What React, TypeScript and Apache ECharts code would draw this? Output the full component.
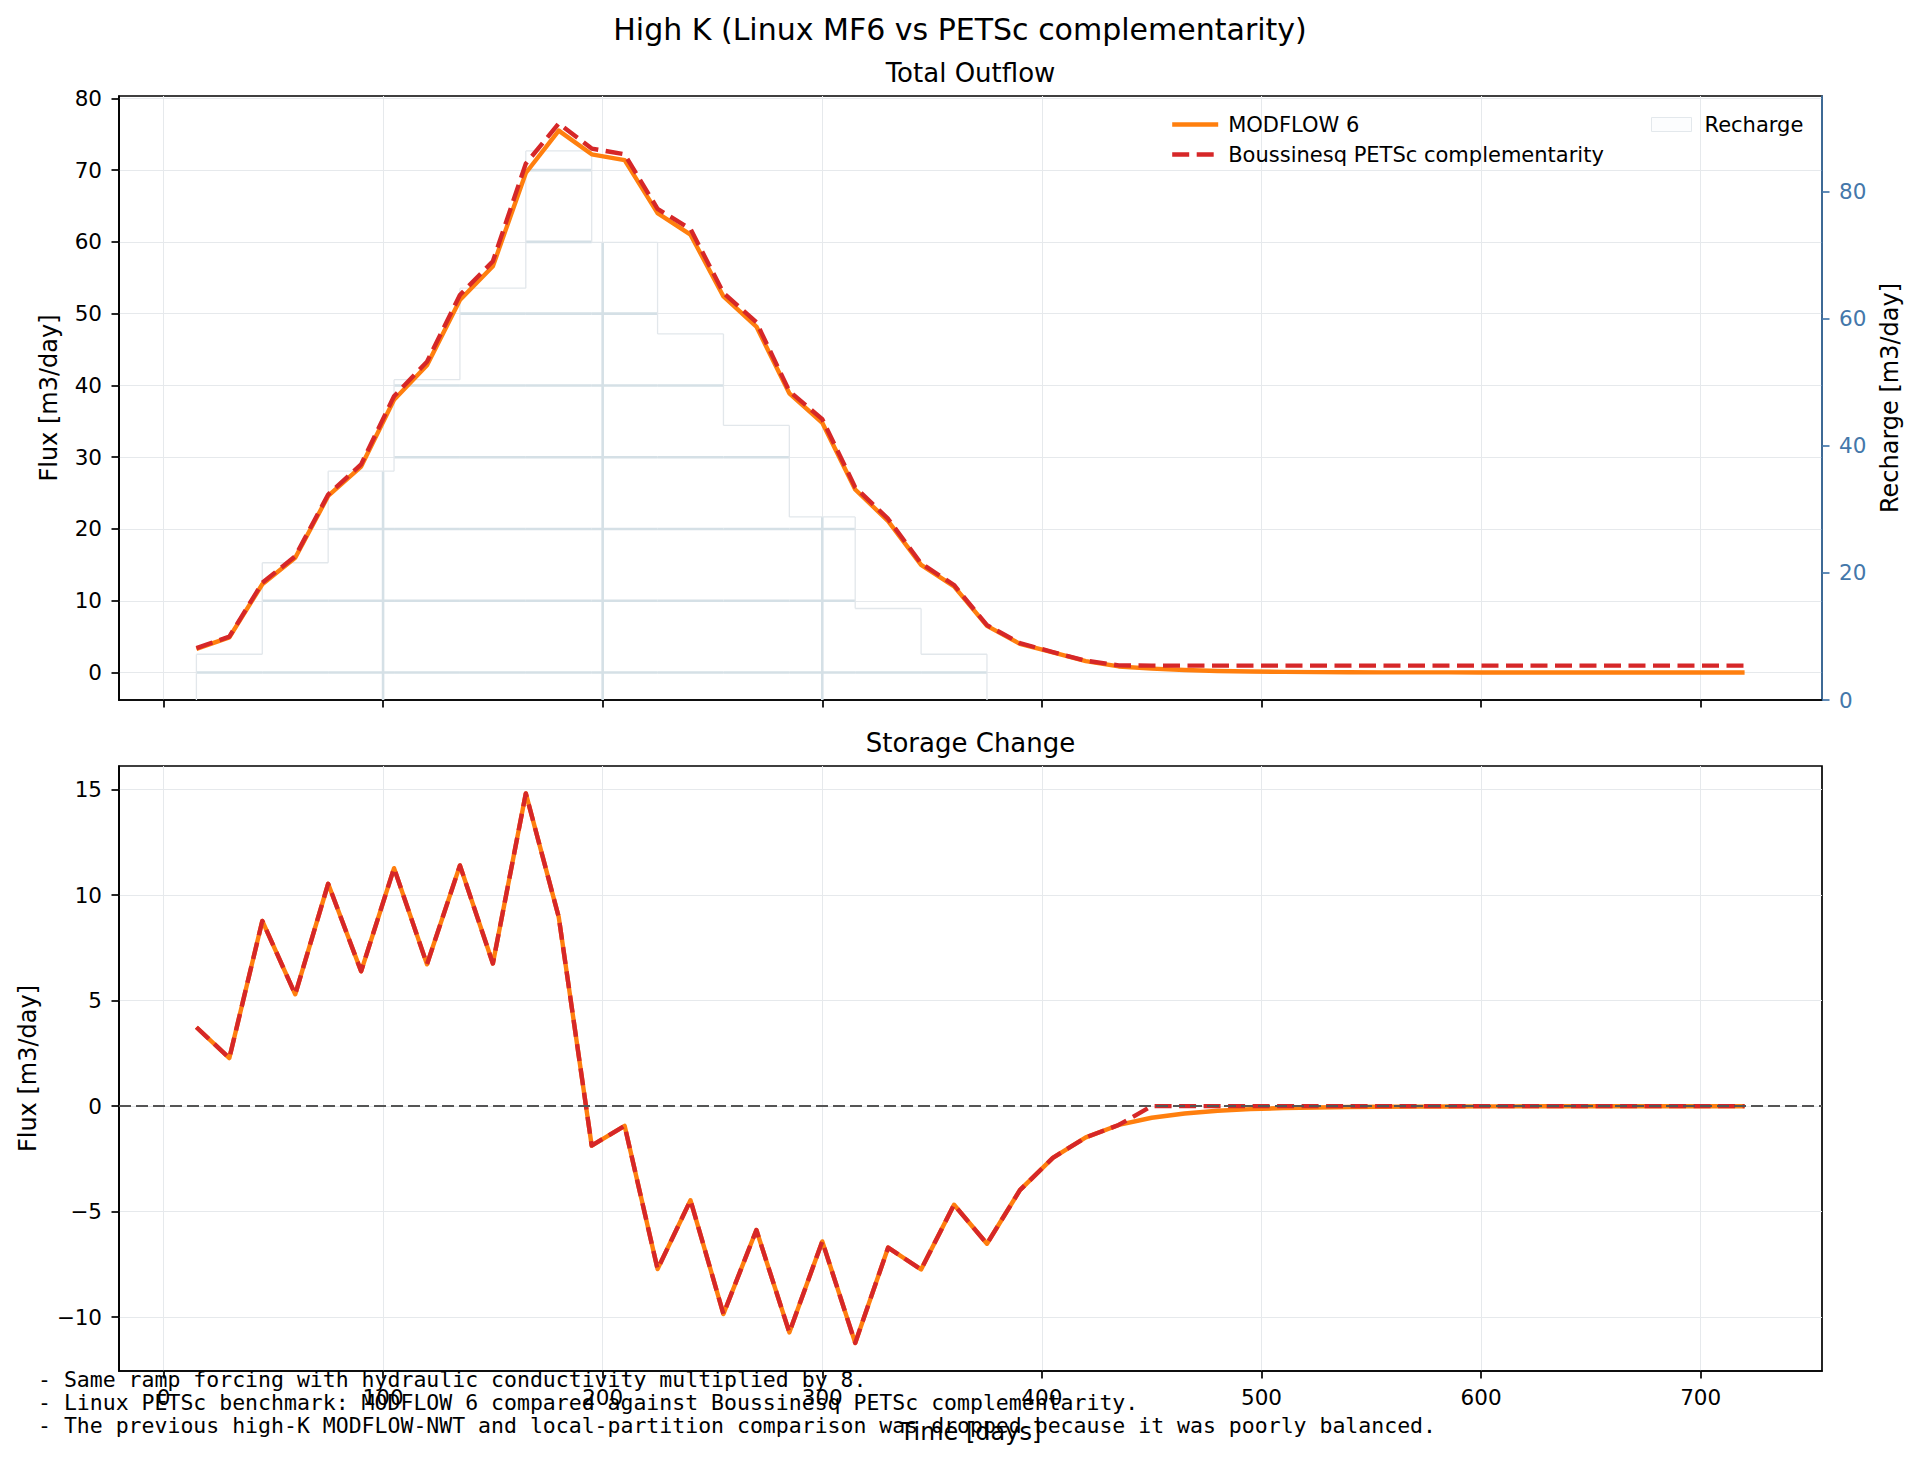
import React, { useEffect, useRef } from "react";
import * as echarts from "echarts";

const time = [15, 30, 45, 60, 75, 90, 105, 120, 135, 150, 165, 180, 195, 210, 225, 240, 255, 270, 285, 300, 315, 330, 345, 360, 375, 390, 405, 420, 435, 450, 465, 480, 495, 510, 525, 540, 555, 570, 585, 600, 615, 630, 645, 660, 675, 690, 705, 720];

const mf6Outflow = [3.3, 4.9, 12.3, 16.0, 24.6, 28.7, 38.0, 42.8, 51.9, 56.6, 69.6, 75.5, 72.2, 71.4, 64.0, 61.0, 52.4, 48.2, 38.9, 34.8, 25.5, 21.1, 15.0, 12.0, 6.5, 4.0, 2.8, 1.6, 0.85, 0.55, 0.35, 0.22, 0.14, 0.09, 0.06, 0.04, 0.03, 0.02, 0.02, 0.01, 0.01, 0.01, 0.01, 0.01, 0.01, 0.01, 0.01, 0.01];

const petscOutflow = [3.4, 5.0, 12.5, 16.2, 24.8, 29.0, 38.5, 43.3, 52.6, 57.3, 70.9, 76.5, 73.0, 72.2, 64.6, 61.8, 52.9, 48.8, 39.2, 35.3, 25.8, 21.4, 15.2, 12.2, 6.6, 4.1, 2.85, 1.65, 1.0, 0.97, 0.97, 0.97, 0.97, 0.97, 0.97, 0.97, 0.97, 0.97, 0.97, 0.97, 0.97, 0.97, 0.97, 0.97, 0.97, 0.97, 0.97, 0.97];

const mf6Storage = [3.74, 2.28, 8.78, 5.3, 10.54, 6.39, 11.28, 6.72, 11.41, 6.76, 14.82, 8.96, -1.87, -0.93, -7.72, -4.46, -9.85, -5.87, -10.72, -6.41, -11.22, -6.7, -7.74, -4.67, -6.52, -3.98, -2.45, -1.48, -0.89, -0.55, -0.35, -0.22, -0.14, -0.09, -0.06, -0.04, -0.03, -0.02, -0.015, -0.01, -0.008, -0.006, -0.004, -0.003, -0.002, -0.002, -0.001, -0.001];

const petscStorage = [3.74, 2.28, 8.78, 5.3, 10.54, 6.39, 11.28, 6.72, 11.41, 6.76, 14.82, 8.96, -1.87, -0.93, -7.72, -4.46, -9.85, -5.87, -10.72, -6.41, -11.22, -6.7, -7.74, -4.67, -6.52, -3.98, -2.45, -1.48, -0.89, 0, 0, 0, 0, 0, 0, 0, 0, 0, 0, 0, 0, 0, 0, 0, 0, 0, 0, 0];

const rechargeStart = [15, 45, 75, 105, 135, 165, 195, 225, 255, 285, 315, 345];
const rechargeEnd = [45, 75, 105, 135, 165, 195, 225, 255, 285, 315, 345, 375];
const rechargeRate = [7.2, 21.6, 36.0, 50.4, 64.8, 86.4, 72.0, 57.6, 43.2, 28.8, 14.4, 7.2];

const timeTicks = [0, 100, 200, 300, 400, 500, 600, 700];
const outflowTicks = [0, 10, 20, 30, 40, 50, 60, 70, 80];
const storageTicks = [-10, -5, 0, 5, 10, 15];
const rechargeTicks = [0, 20, 40, 60, 80];

const footnotes = [
  "- Same ramp forcing with hydraulic conductivity multiplied by 8.",
  "- Linux PETSc benchmark: MODFLOW 6 compared against Boussinesq PETSc complementarity.",
  "- The previous high-K MODFLOW-NWT and local-partition comparison was dropped because it was poorly balanced.",
];

const X_MIN = -20.25;
const X_MAX = 755.25;
const OUT_MIN = -3.825;
const OUT_MAX = 80.325;
const ST_MIN = -12.55;
const ST_MAX = 16.12;
const RECH_MAX = 95.04;

const FONT = "DejaVu Sans";
const ORANGE = "#ff7f0e";
const RED = "#d62728";
const BLUE = "#4477aa";
const GRID = "#e6e9ec";

const fmt = (v: number) => (v < 0 ? "\u2212" + Math.abs(v) : String(v));

export default function App() {
  const ref = useRef<HTMLDivElement>(null);

  useEffect(() => {
    if (!ref.current) return;
    const chart = echarts.init(ref.current, null, { renderer: "svg" });

    const pairs = (vals: number[]) => time.map((t, i) => [t, vals[i]]);
    const rechargeData = rechargeStart.map((s, i) => [
      s,
      rechargeEnd[i],
      rechargeRate[i],
      i > 0 ? rechargeRate[i - 1] : 0,
    ]);
    const lastIdx = rechargeStart.length - 1;

    const tickLabel = { fontSize: 21.5, color: "#000", fontFamily: FONT };
    const axisLine = { show: true, onZero: false, lineStyle: { color: "#000", width: 1.7 } };
    const axisTick = { show: true, length: 7.5, lineStyle: { color: "#000", width: 1.7 } };
    const splitLine = { show: true, lineStyle: { color: GRID, width: 1 } };

    const option: any = {
      animation: false,
      backgroundColor: "#ffffff",
      textStyle: { fontFamily: FONT },
      title: [
        {
          text: "High K (Linux MF6 vs PETSc complementarity)",
          left: "center",
          top: 9,
          textStyle: { fontSize: 30, fontWeight: "normal", color: "#000", fontFamily: FONT },
        },
      ],
      grid: [
        { left: 119, top: 96, width: 1703, height: 604, show: true, borderColor: "#000", borderWidth: 1.7, backgroundColor: "transparent" },
        { left: 119, top: 766, width: 1703, height: 605, show: true, borderColor: "#000", borderWidth: 1.7, backgroundColor: "transparent" },
      ],
      legend: [
        {
          orient: "vertical",
          left: 1165,
          top: 109,
          itemWidth: 46,
          itemHeight: 21,
          itemGap: 9,
          selectedMode: false,
          itemStyle: { opacity: 0, borderWidth: 0 },
          lineStyle: { width: 4.4, type: "inherit" },
          data: ["MODFLOW 6", "Boussinesq PETSc complementarity"],
          textStyle: { fontSize: 21, color: "#000", fontFamily: FONT, padding: [0, 0, 0, 5] },
        },
        {
          left: 1646,
          top: 109,
          itemWidth: 40,
          itemHeight: 14,
          selectedMode: false,
          data: [
            {
              name: "Recharge",
              icon: "rect",
              itemStyle: { color: "#fcfdfe", borderColor: "#e3e8ec", borderWidth: 1 },
            },
          ],
          textStyle: { fontSize: 21, color: "#000", fontFamily: FONT, padding: [0, 0, 0, 8] },
        },
      ],
      xAxis: [
        {
          type: "value",
          gridIndex: 0,
          min: X_MIN,
          max: X_MAX,
          axisLine,
          axisTick: { ...axisTick, customValues: timeTicks },
          axisLabel: { show: false, customValues: timeTicks },
          splitLine,
        },
        {
          type: "value",
          gridIndex: 1,
          min: X_MIN,
          max: X_MAX,
          name: "Time [days]",
          nameLocation: "middle",
          nameGap: 49,
          nameTextStyle: { fontSize: 24, color: "#000", fontFamily: FONT },
          axisLine,
          axisTick: { ...axisTick, customValues: timeTicks },
          axisLabel: { ...tickLabel, margin: 15, customValues: timeTicks, formatter: fmt },
          splitLine,
        },
      ],
      yAxis: [
        {
          type: "value",
          gridIndex: 0,
          min: OUT_MIN,
          max: OUT_MAX,
          name: "Flux [m3/day]",
          nameLocation: "middle",
          nameRotate: 90,
          nameGap: 58,
          nameTextStyle: { fontSize: 24, color: "#000", fontFamily: FONT },
          axisLine,
          axisTick: { ...axisTick, customValues: outflowTicks },
          axisLabel: { ...tickLabel, margin: 17, customValues: outflowTicks, formatter: fmt },
          splitLine,
        },
        {
          type: "value",
          gridIndex: 0,
          position: "right",
          min: 0,
          max: RECH_MAX,
          name: "Recharge [m3/day]",
          nameLocation: "middle",
          nameRotate: 90,
          nameGap: 56,
          nameTextStyle: { fontSize: 24, color: "#000", fontFamily: FONT },
          axisLine: { show: true, onZero: false, lineStyle: { color: BLUE, width: 1.7 } },
          axisTick: { show: true, length: 7.5, lineStyle: { color: BLUE, width: 1.7 }, customValues: rechargeTicks },
          axisLabel: { fontSize: 21.5, color: BLUE, fontFamily: FONT, margin: 17, customValues: rechargeTicks },
          splitLine: { show: false },
        },
        {
          type: "value",
          gridIndex: 1,
          min: ST_MIN,
          max: ST_MAX,
          name: "Flux [m3/day]",
          nameLocation: "middle",
          nameRotate: 90,
          nameGap: 79,
          nameTextStyle: { fontSize: 24, color: "#000", fontFamily: FONT },
          axisLine,
          axisTick: { ...axisTick, customValues: storageTicks },
          axisLabel: { ...tickLabel, margin: 17, customValues: storageTicks, formatter: fmt },
          splitLine,
        },
      ],
      series: [
        {
          name: "Recharge",
          type: "custom",
          xAxisIndex: 0,
          yAxisIndex: 1,
          z: 1,
          clip: true,
          silent: true,
          itemStyle: { color: "#fcfdfe", borderColor: "#e3e8ec", borderWidth: 1 },
          encode: { x: [0, 1], y: 2 },
          data: rechargeData,
          renderItem: (params: any, api: any) => {
            const x0 = api.value(0);
            const x1 = api.value(1);
            const r = api.value(2);
            const rPrev = api.value(3);
            const children: any[] = [];
            const dark = { stroke: "#d5e0e6", lineWidth: 2.6 };
            const edge = { stroke: "#e2e7eb", lineWidth: 1.3 };
            const seg = (a: number[], b: number[], style: any) =>
              children.push({ type: "line", shape: { x1: a[0], y1: a[1], x2: b[0], y2: b[1] }, style });
            outflowTicks.forEach((f) => {
              const rf = ((f - OUT_MIN) / (OUT_MAX - OUT_MIN)) * RECH_MAX;
              if (rf <= r) seg(api.coord([x0, rf]), api.coord([x1, rf]), dark);
            });
            timeTicks.forEach((g) => {
              if (g > x0 && g < x1) seg(api.coord([g, 0]), api.coord([g, r]), dark);
            });
            seg(api.coord([x0, r]), api.coord([x1, r]), edge);
            seg(api.coord([x0, rPrev]), api.coord([x0, r]), edge);
            if (params.dataIndex === lastIdx) seg(api.coord([x1, r]), api.coord([x1, 0]), edge);
            return { type: "group", children };
          },
        },
        {
          name: "MODFLOW 6",
          type: "line",
          xAxisIndex: 0,
          yAxisIndex: 0,
          z: 3,
          symbol: "none",
          showSymbol: false,
          color: ORANGE,
          lineStyle: { color: ORANGE, width: 4.4, join: "round" },
          data: pairs(mf6Outflow),
        },
        {
          name: "Boussinesq PETSc complementarity",
          type: "line",
          xAxisIndex: 0,
          yAxisIndex: 0,
          z: 4,
          symbol: "none",
          showSymbol: false,
          color: RED,
          lineStyle: { color: RED, width: 4.4, type: [17, 7.5], cap: "butt", join: "round" },
          data: pairs(petscOutflow),
        },
        {
          name: "zero",
          type: "line",
          xAxisIndex: 1,
          yAxisIndex: 2,
          z: 2,
          symbol: "none",
          data: [],
          markLine: {
            silent: true,
            symbol: ["none", "none"],
            label: { show: false },
            lineStyle: { color: "#555555", width: 2.2, type: [12, 5] },
            data: [{ yAxis: 0 }],
          },
        },
        {
          name: "MODFLOW 6 storage",
          type: "line",
          xAxisIndex: 1,
          yAxisIndex: 2,
          z: 3,
          symbol: "none",
          showSymbol: false,
          color: ORANGE,
          lineStyle: { color: ORANGE, width: 4.4, join: "round" },
          data: pairs(mf6Storage),
        },
        {
          name: "PETSc storage",
          type: "line",
          xAxisIndex: 1,
          yAxisIndex: 2,
          z: 4,
          symbol: "none",
          showSymbol: false,
          color: RED,
          lineStyle: { color: RED, width: 4.4, type: [17, 7.5], cap: "butt", join: "round" },
          data: pairs(petscStorage),
        },
      ],
      graphic: [
        {
          type: "text",
          x: 970.5,
          y: 73,
          style: { text: "Total Outflow", font: `26px "${FONT}"`, fill: "#000", textAlign: "center", textVerticalAlign: "middle" },
        },
        {
          type: "text",
          x: 970.5,
          y: 743,
          style: { text: "Storage Change", font: `26px "${FONT}"`, fill: "#000", textAlign: "center", textVerticalAlign: "middle" },
        },
        ...footnotes.map((t, i) => ({
          type: "text",
          x: 38,
          y: [1379, 1402, 1425][i],
          z: 100,
          style: { text: t, font: `21.5px "DejaVu Sans Mono"`, fill: "#000", textAlign: "left", textVerticalAlign: "middle" },
        })),
      ],
    };

    chart.setOption(option);
    return () => chart.dispose();
  }, []);

  return (
    <div
      ref={ref}
      style={{ position: "absolute", left: 0, top: 0, width: 1920, height: 1462, background: "#fff" }}
    />
  );
}
